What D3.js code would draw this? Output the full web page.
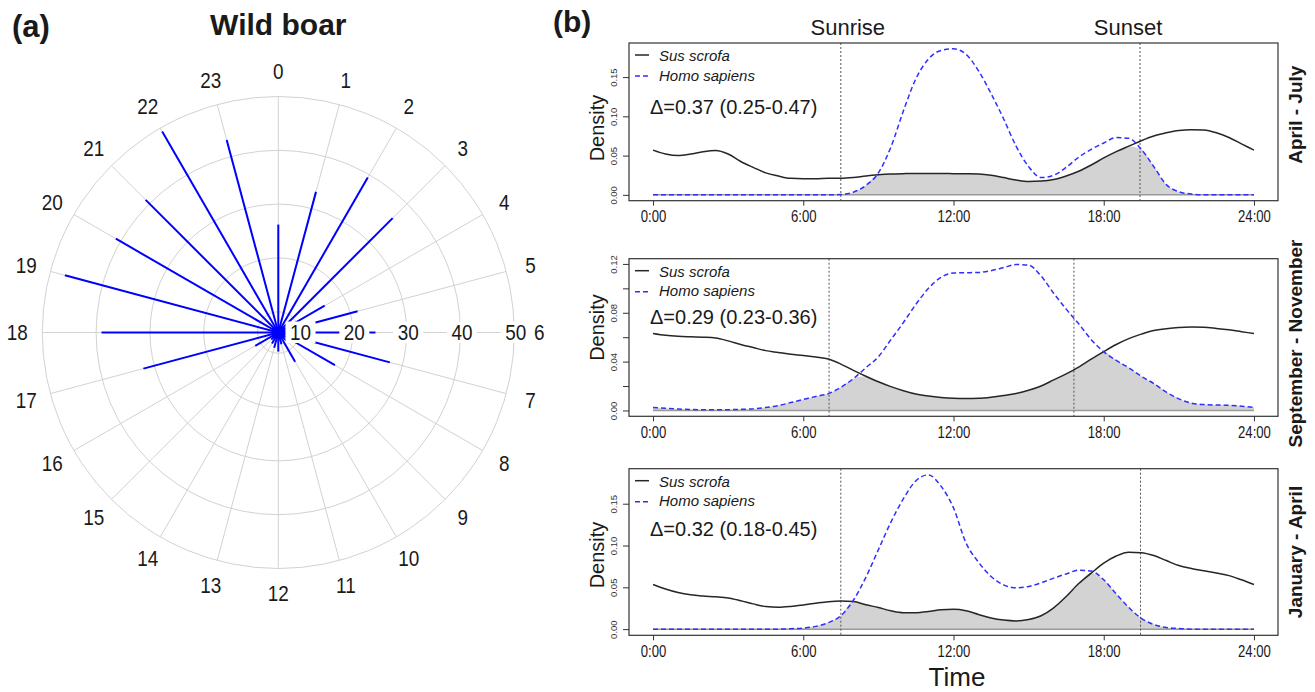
<!DOCTYPE html>
<html>
<head>
<meta charset="utf-8">
<script src="https://cdn.jsdelivr.net/npm/d3@7"></script>
<style>
  html, body { margin: 0; padding: 0; background: #fff; }
  svg { display: block; font-family: "Liberation Sans", Arial, sans-serif; }
</style>
</head>
<body>
<svg id="chart" width="1315" height="692"></svg>
<script>
// ── Data: panel (a) ───────────────────────────────────────────────────────────
const hours      = [0, 1, 2, 3, 4, 5, 6, 7, 8, 9, 10, 11, 12, 13, 14, 15, 16, 17, 18, 19, 20, 21, 22, 23];
const hourCounts = [26.2, 33.2, 39.4, 36.2, 16.1, 21.4, 24.2, 27.6, 18.3, 8.8, 12.4, 8.4,
                    9.7, 9.1, 8.5, 8.0, 11.1, 32.1, 39.0, 47.2, 41.0, 41.0, 49.3, 43.2];
const ringTicks  = [10, 20, 30, 40, 50];
const radialMin  = 6.15;

// ── Data: panel (b) ───────────────────────────────────────────────────────────
const timeGrid = [0, 0.5, 1, 1.5, 2, 2.5, 3, 3.5, 4, 4.5, 5, 5.5, 6, 6.5, 7, 7.5, 8, 8.5, 9, 9.5,
                  10, 10.5, 11, 11.5, 12, 12.5, 13, 13.5, 14, 14.5, 15, 15.5, 16, 16.5, 17, 17.5,
                  18, 18.5, 19, 19.5, 20, 20.5, 21, 21.5, 22, 22.5, 23, 23.5, 24];

const susAprJul  = [0.057, 0.052, 0.050, 0.052, 0.055, 0.0565, 0.052, 0.0425, 0.035, 0.028,
                    0.024, 0.021, 0.0205, 0.0205, 0.021, 0.021, 0.022, 0.024, 0.0255, 0.0265,
                    0.027, 0.0273, 0.0273, 0.0272, 0.027, 0.0268, 0.0265, 0.025, 0.022, 0.019,
                    0.017, 0.0175, 0.0195, 0.024, 0.030, 0.038, 0.047, 0.055, 0.062, 0.069,
                    0.075, 0.079, 0.082, 0.083, 0.0825, 0.079, 0.073, 0.065, 0.057];
const homoAprJul = [0, 0, 0, 0, 0, 0, 0, 0, 0, 0,
                    0, 0, 0, 0, 0, 0.0005, 0.0034, 0.012, 0.028, 0.061,
                    0.107, 0.148, 0.173, 0.184, 0.186, 0.179, 0.158, 0.129, 0.097, 0.062,
                    0.036, 0.022, 0.025, 0.035, 0.048, 0.058, 0.066, 0.073, 0.072, 0.058,
                    0.036, 0.013, 0.004, 0.001, 0, 0, 0, 0, 0];

const susSepNov  = [0.063, 0.0615, 0.0607, 0.0603, 0.060, 0.0594, 0.057, 0.054, 0.0515, 0.049,
                    0.0475, 0.046, 0.045, 0.0437, 0.0421, 0.038, 0.0328, 0.028, 0.0235, 0.0195,
                    0.0162, 0.0135, 0.0118, 0.0106, 0.0099, 0.0097, 0.0099, 0.0108, 0.0122, 0.0139,
                    0.0165, 0.020, 0.025, 0.030, 0.0355, 0.042, 0.0482, 0.054, 0.0588, 0.0625,
                    0.0655, 0.067, 0.068, 0.0684, 0.0682, 0.0672, 0.066, 0.0645, 0.063];
const homoSepNov = [0.0025, 0.0018, 0.0012, 0.0008, 0.0006, 0.0005, 0.0006, 0.0009, 0.0013, 0.0024,
                    0.0040, 0.0065, 0.0090, 0.0115, 0.0138, 0.019, 0.026, 0.035, 0.044, 0.058,
                    0.072, 0.087, 0.100, 0.109, 0.1125, 0.1128, 0.113, 0.1145, 0.117, 0.1195,
                    0.119, 0.110, 0.096, 0.083, 0.071, 0.058, 0.048, 0.041, 0.035, 0.028,
                    0.022, 0.015, 0.0095, 0.0060, 0.0048, 0.0045, 0.0042, 0.0035, 0.0025];

const susJanApr  = [0.0534, 0.048, 0.0437, 0.041, 0.0396, 0.0387, 0.0373, 0.034, 0.0302, 0.027,
                    0.0262, 0.0272, 0.029, 0.031, 0.0328, 0.0336, 0.033, 0.0292, 0.0258, 0.022,
                    0.0197, 0.0197, 0.021, 0.0232, 0.0237, 0.022, 0.0175, 0.0133, 0.0108, 0.0098,
                    0.0115, 0.016, 0.0255, 0.039, 0.0545, 0.067, 0.079, 0.0875, 0.092, 0.0915,
                    0.088, 0.082, 0.076, 0.0725, 0.0698, 0.067, 0.064, 0.059, 0.0534];
const homoJanApr = [0, 0, 0, 0, 0, 0, 0, 0, 0, 0,
                    0, 0.0005, 0.0013, 0.0033, 0.0078, 0.016, 0.0345, 0.062, 0.095, 0.128,
                    0.156, 0.1775, 0.1845, 0.171, 0.145, 0.103, 0.080, 0.063, 0.053, 0.0495,
                    0.051, 0.0555, 0.061, 0.066, 0.0705, 0.0695, 0.059, 0.042, 0.026, 0.013,
                    0.0055, 0.002, 0.0008, 0, 0, 0, 0, 0, 0];

const seasonNames  = ['April - July', 'September - November', 'January - April'];
const overlapTexts = ['Δ=0.37 (0.25-0.47)', 'Δ=0.29 (0.23-0.36)', 'Δ=0.32 (0.18-0.45)'];
const sunriseTimes = [7.5, 7.03, 7.5];
const sunsetTimes  = [19.45, 16.81, 19.47];

const xTicks       = [0, 6, 12, 18, 24];
const xTickLabels  = ['0:00', '6:00', '12:00', '18:00', '24:00'];
const yTicksWide   = [0, 0.05, 0.10, 0.15];
const yLabelsWide  = ['0.00', '0.05', '0.10', '0.15'];
const yTicksFine   = [0, 0.02, 0.04, 0.06, 0.08, 0.10, 0.12];
const yLabelsFine  = ['0.00', '', '0.04', '', '0.08', '', '0.12'];

// ── Setup ─────────────────────────────────────────────────────────────────────
const svg = d3.select('#chart');
const ink = '#1a1a1a';

// ── Panel (a): polar plot ────────────────────────────────────────────────────
const cx = 278.3, cy = 332.5, R = 236;
const r     = d3.scaleLinear().domain([radialMin, 50]).range([0, R]);
const angle = d3.scaleLinear().domain([0, 24]).range([0, 2 * Math.PI]);
const radial = d3.lineRadial().angle(d => d[0]).radius(d => d[1]);

svg.append('text')
  .attr('x', 12).attr('y', 37)
  .attr('font-size', 31).attr('font-weight', 'bold').attr('fill', ink)
  .text('(a)');

svg.append('text')
  .attr('x', cx).attr('y', 35)
  .attr('text-anchor', 'middle')
  .attr('font-size', 30).attr('font-weight', 'bold').attr('fill', ink)
  .text('Wild boar');

const pa = svg.append('g').attr('transform', `translate(${cx},${cy})`);

// Grid
pa.selectAll('circle.ring')
  .data(ringTicks)
  .join('circle')
  .attr('class', 'ring')
  .attr('r', d => r(d))
  .attr('fill', 'none')
  .attr('stroke', '#d2d2d2');

pa.selectAll('path.spoke')
  .data(hours)
  .join('path')
  .attr('class', 'spoke')
  .attr('d', h => radial([[angle(h), 0], [angle(h), R]]))
  .attr('fill', 'none')
  .attr('stroke', '#d2d2d2');

// Rays
pa.selectAll('path.ray')
  .data(hours)
  .join('path')
  .attr('class', 'ray')
  .attr('d', (h, i) => radial([[angle(h), 0], [angle(h), r(hourCounts[i])]]))
  .attr('fill', 'none')
  .attr('stroke', '#0000ff')
  .attr('stroke-width', 2);

pa.append('rect')
  .attr('x', -6).attr('y', -5.5)
  .attr('width', 12).attr('height', 11)
  .attr('fill', '#0000ff');

// Ring labels on white boxes
const ringLab = pa.selectAll('g.ringlab')
  .data(ringTicks)
  .join('g')
  .attr('class', 'ringlab')
  .attr('transform', d => `translate(${r(d) + 1.5},0)`);

ringLab.append('rect').attr('fill', '#fff');
ringLab.append('text')
  .attr('transform', 'scale(0.86,1)')
  .attr('text-anchor', 'middle')
  .attr('dy', '0.36em')
  .attr('font-size', 22)
  .attr('fill', ink)
  .text(d => d);

ringLab.each(function () {
  const g = d3.select(this);
  const w = g.select('text').node().getComputedTextLength() * 0.86 + 9;
  g.select('rect')
    .attr('x', -w / 2).attr('y', -11)
    .attr('width', w).attr('height', 21.5);
});

// Hour labels
pa.selectAll('text.hour')
  .data(hours)
  .join('text')
  .attr('class', 'hour')
  .attr('transform', h => {
    const [px, py] = d3.pointRadial(angle(h), 261);
    return `translate(${px},${py}) scale(0.86,1)`;
  })
  .attr('text-anchor', 'middle')
  .attr('dy', '0.36em')
  .attr('font-size', 22)
  .attr('fill', ink)
  .text(h => h);

// ── Panel (b): activity overlap ──────────────────────────────────────────────
const panels = [
  { sus: susAprJul, homo: homoAprJul, yTicks: yTicksWide, yLabels: yLabelsWide },
  { sus: susSepNov, homo: homoSepNov, yTicks: yTicksFine, yLabels: yLabelsFine },
  { sus: susJanApr, homo: homoJanApr, yTicks: yTicksWide, yLabels: yLabelsWide }
];
const layout = [
  { top: 43,    bottom: 200.7, nameY: 114.7, densityY: 128,   deltaY: 114 },
  { top: 258.7, bottom: 416.3, nameY: 343.5, densityY: 327.5, deltaY: 323.7 },
  { top: 468.7, bottom: 635.3, nameY: 552,   densityY: 555,   deltaY: 536 }
];
const boxLeft = 629, boxRight = 1278;
const x = d3.scaleLinear().domain([-0.96, 24.96]).range([boxLeft, boxRight]);

svg.append('text')
  .attr('x', 553).attr('y', 32)
  .attr('font-size', 30).attr('font-weight', 'bold').attr('fill', ink)
  .text('(b)');

panels.forEach((p, k) => {
  const L = layout[k];
  const top = Math.max(d3.max(p.sus), d3.max(p.homo));
  const y = d3.scaleLinear()
    .domain([-0.04 * top, 1.04 * top])
    .range([L.bottom, L.top]);

  const pts = timeGrid.map((t, i) => ({ t, s: p.sus[i], h: p.homo[i] }));
  const g = svg.append('g');

  // Overlap area
  g.append('path')
    .datum(pts)
    .attr('d', d3.area()
      .x(d => x(d.t))
      .y0(y(0))
      .y1(d => y(Math.min(d.s, d.h)))
      .curve(d3.curveMonotoneX))
    .attr('fill', '#d3d3d3');

  g.append('line')
    .attr('x1', x(0)).attr('x2', x(24))
    .attr('y1', y(0)).attr('y2', y(0))
    .attr('stroke', '#9a9a9a')
    .attr('stroke-width', 1.5);

  // Sunrise / sunset
  [sunriseTimes[k], sunsetTimes[k]].forEach(t => {
    g.append('line')
      .attr('x1', x(t)).attr('x2', x(t))
      .attr('y1', L.top).attr('y2', L.bottom)
      .attr('stroke', '#555')
      .attr('stroke-width', 1)
      .attr('stroke-dasharray', '2 2');
  });

  // Densities
  g.append('path')
    .datum(pts)
    .attr('d', d3.line().x(d => x(d.t)).y(d => y(d.s)).curve(d3.curveMonotoneX))
    .attr('fill', 'none')
    .attr('stroke', '#262626')
    .attr('stroke-width', 1.5);

  g.append('path')
    .datum(pts)
    .attr('d', d3.line().x(d => x(d.t)).y(d => y(d.h)).curve(d3.curveMonotoneX))
    .attr('fill', 'none')
    .attr('stroke', '#2f2fff')
    .attr('stroke-width', 1.5)
    .attr('stroke-dasharray', '5 3');

  // Box
  g.append('rect')
    .attr('x', boxLeft).attr('y', L.top)
    .attr('width', boxRight - boxLeft).attr('height', L.bottom - L.top)
    .attr('fill', 'none')
    .attr('stroke', '#333')
    .attr('stroke-width', 1.2);

  // Axes
  const xa = g.append('g')
    .attr('transform', `translate(0,${L.bottom})`)
    .call(d3.axisBottom(x).tickValues(xTicks).tickSize(5).tickPadding(5)
      .tickFormat((d, i) => xTickLabels[i]));
  xa.select('.domain').remove();
  xa.selectAll('line').attr('stroke', '#333');
  xa.selectAll('text')
    .attr('transform', 'scale(0.82,1)')
    .attr('font-size', 16)
    .attr('font-family', '"Liberation Sans", Arial, sans-serif')
    .attr('fill', ink);

  const ya = g.append('g')
    .attr('transform', `translate(${boxLeft},0)`)
    .call(d3.axisLeft(y).tickValues(p.yTicks).tickSize(6)
      .tickFormat((d, i) => p.yLabels[i]));
  ya.select('.domain').remove();
  ya.selectAll('line').attr('stroke', '#333');
  ya.selectAll('text')
    .attr('x', 0).attr('y', 0).attr('dy', 0)
    .attr('text-anchor', 'middle')
    .attr('transform', 'translate(-12,0) rotate(-90)')
    .attr('font-size', 9.5)
    .attr('font-family', '"Liberation Sans", Arial, sans-serif')
    .attr('fill', '#333');

  // Axis title and season label
  g.append('text')
    .attr('transform', `translate(604,${L.densityY}) rotate(-90)`)
    .attr('text-anchor', 'middle')
    .attr('font-size', 20).attr('fill', ink)
    .text('Density');

  g.append('text')
    .attr('transform', `translate(1302,${L.nameY}) rotate(-90)`)
    .attr('text-anchor', 'middle')
    .attr('font-size', 19).attr('font-weight', 'bold').attr('fill', ink)
    .text(seasonNames[k]);

  // Legend
  g.append('line')
    .attr('x1', 635).attr('x2', 649)
    .attr('y1', L.top + 12).attr('y2', L.top + 12)
    .attr('stroke', '#262626').attr('stroke-width', 1.5);
  g.append('text')
    .attr('x', 659).attr('y', L.top + 18)
    .attr('font-size', 15).attr('font-style', 'italic').attr('fill', ink)
    .text('Sus scrofa');

  g.append('line')
    .attr('x1', 635).attr('x2', 650)
    .attr('y1', L.top + 33).attr('y2', L.top + 33)
    .attr('stroke', '#2f2fff').attr('stroke-width', 1.5)
    .attr('stroke-dasharray', '5 3');
  g.append('text')
    .attr('x', 659).attr('y', L.top + 37.5)
    .attr('font-size', 15).attr('font-style', 'italic').attr('fill', ink)
    .text('Homo sapiens');

  g.append('text')
    .attr('x', 650).attr('y', L.deltaY)
    .attr('font-size', 20).attr('fill', ink)
    .text(overlapTexts[k]);

  if (k === 0) {
    g.append('text')
      .attr('x', x(sunriseTimes[k]) + 7).attr('y', 35)
      .attr('text-anchor', 'middle')
      .attr('font-size', 22).attr('fill', ink)
      .text('Sunrise');
    g.append('text')
      .attr('x', x(sunsetTimes[k]) - 12).attr('y', 35)
      .attr('text-anchor', 'middle')
      .attr('font-size', 22).attr('fill', ink)
      .text('Sunset');
  }

  if (k === panels.length - 1) {
    g.append('text')
      .attr('x', 957).attr('y', 686)
      .attr('text-anchor', 'middle')
      .attr('font-size', 26).attr('fill', ink)
      .text('Time');
  }
});
</script>
</body>
</html>
